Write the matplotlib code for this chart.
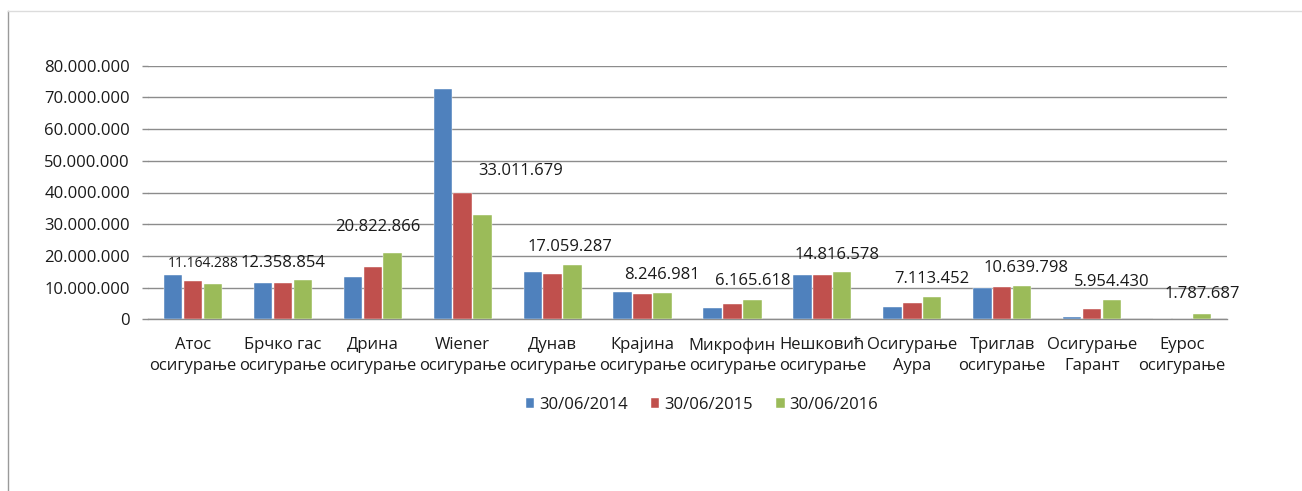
import matplotlib
matplotlib.use("Agg")
import matplotlib.pyplot as plt
from matplotlib.lines import Line2D
import numpy as np

plt.rcParams['font.family'] = ['Open Sans', 'DejaVu Sans']

categories = ["Атос\nосигурање", "Брчко гас\nосигурање", "Дрина\nосигурање",
              "Wiener\nосигурање", "Дунав\nосигурање", "Крајина\nосигурање",
              "Микрофин\nосигурање", "Нешковић\nосигурање", "Осигурање\nАура",
              "Триглав\nосигурање", "Осигурање\nГарант", "Еурос\nосигурање"]
series_names = ["30/06/2014", "30/06/2015", "30/06/2016"]
values_2014 = [14.0e6, 11.5e6, 13.5e6, 72.6e6, 14.9e6, 8.7e6, 3.7e6, 14.0e6, 3.8e6, 9.8e6, 0.8e6, 0]
values_2015 = [12.1e6, 11.5e6, 16.4e6, 40.0e6, 14.2e6, 8.1e6, 4.7e6, 14.0e6, 5.2e6, 10.1e6, 3.35e6, 0]
values_2016 = [11164288, 12358854, 20822866, 33011679, 17059287, 8246981, 6165618,
               14816578, 7113452, 10639798, 5954430, 1787687]
y_ticks = [0, 10e6, 20e6, 30e6, 40e6, 50e6, 60e6, 70e6, 80e6]

# label placement tweaks (points) for the data labels of the last series
label_dx = [-6.8, -14.4, -10.8, 27.4, -2, 0, 0, -3.6, 0, 2.9, 0, 0]
label_dy = [14.8, 12.2, 19.2, 31.7, 13.3, 13.2, 13.7, 12.7, 12.8, 12.5, 13.0, 14.4]
label_fs = [10, 12, 12, 12, 12, 12, 12, 12, 12, 12, 12, 12]

colors = ['#4F81BD', '#C0504D', '#9BBB59']
W, H = 1302, 491
fig = plt.figure(figsize=(W / 100, H / 100), dpi=100)
ax = fig.add_axes([148 / W, 1 - 319.3 / H, (1227 - 148) / W, (319.3 - 65.7) / H])

x = np.arange(len(categories))
off = 0.221
bw = 0.205
for k, (vals, c, name) in enumerate(zip([values_2014, values_2015, values_2016], colors, series_names)):
    ax.bar(x + (k - 1) * off, vals, width=bw, color=c, label=name, zorder=3,
           edgecolor='white', linewidth=0.3)

ax.set_xlim(-0.5, len(categories) - 0.5)
ax.set_ylim(0, 80e6)
ax.set_yticks(y_ticks)
ax.set_yticklabels(["0" if v == 0 else f"{v:,.0f}".replace(',', '.') for v in y_ticks])
ax.set_xticks(x)
ax.set_xticklabels(categories, linespacing=1.35)
ax.tick_params(axis='y', length=4.5, width=1.0, color='#8c8c8c', pad=8.5, labelsize=12, labelcolor='#1a1a1a')
ax.tick_params(axis='x', length=0, pad=13, labelsize=12, labelcolor='#1a1a1a')
ax.grid(axis='y', color='#8c8c8c', linewidth=1.0, zorder=0)
ax.set_axisbelow(True)
for s in ['left', 'right', 'top']:
    ax.spines[s].set_visible(False)
ax.spines['bottom'].set_color('#8c8c8c')
ax.spines['bottom'].set_linewidth(1.0)

for i, v in enumerate(values_2016):
    ax.annotate(f"{v:,.0f}".replace(',', '.'), xy=(x[i] + off, v),
                xytext=(label_dx[i], label_dy[i]), textcoords='offset points',
                ha='center', va='center', fontsize=label_fs[i], color='#1a1a1a', zorder=5)

fig.legend(loc='center', bbox_to_anchor=(702 / W, 1 - 405 / H), ncol=3, frameon=False,
           fontsize=12, handlelength=0.5, handleheight=0.5, handletextpad=0.3,
           columnspacing=1.4, labelcolor='#1a1a1a')

# outer chart frame (left and top edges visible)
fig.add_artist(Line2D([8 / W, 8 / W], [0, 1 - 11 / H], transform=fig.transFigure,
                      color='#9a9a9a', linewidth=1.0))
fig.add_artist(Line2D([8 / W, 1], [1 - 11 / H, 1 - 11 / H], transform=fig.transFigure,
                      color='#dcdcdc', linewidth=1.0))

fig.savefig("out.png", dpi=100)
